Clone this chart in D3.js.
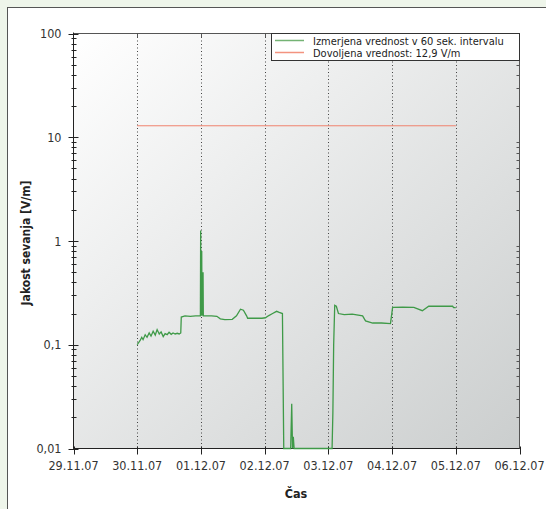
<!DOCTYPE html>
<html lang="en">
<head>
    <meta charset="utf-8">
    <title>Jakost sevanja</title>
    <script type="text/javascript" src="https://d3js.org/d3.v7.min.js"></script>
    <style>
        body { margin: 0; background: #eef5ea; }
        text { font-family: "DejaVu Sans Condensed", "DejaVu Sans", sans-serif; }
    </style>
</head>
<body>
<script type="text/javascript">

    // Tick labels for the day axis (29.11.07 .. 06.12.07)
    var dayLabels = ["29.11.07", "30.11.07", "01.12.07", "02.12.07", "03.12.07", "04.12.07", "05.12.07", "06.12.07"];
    var yTickValues = [0.01, 0.1, 1, 10, 100];
    var yTickLabels = ["0,01", "0,1", "1", "10", "100"];

    // Measured series: hours since 30.11.07 00:00 and value in V/m
    var measuredHours = [0, 1.1, 1.7, 2.2, 3.0, 3.7, 4.5, 5.2, 6.0, 6.8, 7.5, 8.3, 9.0, 9.8, 10.5, 11.3, 12.0, 12.8, 13.5, 14.3,
        15.1, 15.8, 16.4, 16.6, 18, 20, 22, 23.8, 23.9, 24.0, 24.3, 24.4, 24.8, 24.9, 26, 28, 30, 31.3, 33, 35.8,
        37.4, 38.9, 40, 41.2, 41.6, 44, 47, 48.3, 49.4, 51, 52.5, 53.5, 54.7, 55.2, 57.8, 58.2, 58.5, 58.8, 59.1, 73.4,
        73.7, 74.0, 74.4, 75.0, 75.8, 78, 81, 84.9, 86, 88.7, 92, 95.4, 96.2, 100, 104.2, 107.4, 109.8, 114, 118.8, 119.2, 120];
    var measuredValues = [0.1, 0.11, 0.118, 0.112, 0.125, 0.118, 0.13, 0.121, 0.135, 0.124, 0.14, 0.127, 0.133, 0.12, 0.128, 0.125, 0.132, 0.126, 0.13, 0.127,
        0.129, 0.127, 0.13, 0.185, 0.19, 0.188, 0.19, 0.19, 1.26, 0.19, 0.8, 0.19, 0.5, 0.19, 0.19, 0.19, 0.188, 0.178, 0.175, 0.176,
        0.19, 0.22, 0.215, 0.19, 0.18, 0.18, 0.18, 0.182, 0.19, 0.2, 0.21, 0.205, 0.2, 0.01, 0.01, 0.027, 0.01, 0.013, 0.01, 0.01,
        0.022, 0.1, 0.24, 0.235, 0.2, 0.195, 0.197, 0.19, 0.17, 0.162, 0.162, 0.16, 0.229, 0.23, 0.229, 0.213, 0.235, 0.235, 0.235, 0.228, 0.228];

    // Allowed limit
    var limitValue = 12.9;
    var limitHours = [0, 120];

    var legendLabels = ["Izmerjena vrednost v 60 sek. intervalu", "Dovoljena vrednost: 12,9 V/m"];
    var seriesColors = ["#3f9a48", "#f0826e"];
    var legendColors = ["#74b374", "#f3937f"];

    var width = 546, height = 509;
    var plotLeft = 73.5, plotRight = 519.5, plotTop = 33.5, plotBottom = 448.5;

    var svg = d3.select("body").append("svg")
        .attr("width", width)
        .attr("height", height);

    svg.append("rect").attr("width", width).attr("height", height).attr("fill", "#eef5ea");
    svg.append("rect")
        .attr("x", 7.5).attr("y", 7.5)
        .attr("width", 560).attr("height", 540)
        .attr("fill", "#ffffff").attr("stroke", "#555").attr("stroke-width", 1);

    // Plot background gradient
    var grad = svg.append("defs").append("linearGradient")
        .attr("id", "bg").attr("x1", 0).attr("y1", 0).attr("x2", 1).attr("y2", 1);
    grad.append("stop").attr("offset", "0%").attr("stop-color", "#ffffff");
    grad.append("stop").attr("offset", "100%").attr("stop-color", "#cbcece");

    var x = d3.scaleLinear().domain([0, 7]).range([plotLeft, plotRight]);
    var y = d3.scaleLog().domain([0.01, 100]).range([plotBottom, plotTop]);

    svg.append("rect")
        .attr("x", plotLeft).attr("y", plotTop)
        .attr("width", plotRight - plotLeft).attr("height", plotBottom - plotTop)
        .attr("fill", "url(#bg)")
        .attr("stroke", "#555").attr("stroke-width", 1);

    // Vertical dotted grid lines
    svg.append("g").selectAll("line")
        .data(d3.range(1, 7))
        .enter().append("line")
        .attr("x1", function(d) { return Math.round(x(d)) + 0.5; })
        .attr("x2", function(d) { return Math.round(x(d)) + 0.5; })
        .attr("y1", plotTop).attr("y2", plotBottom)
        .attr("stroke", "#444").attr("stroke-width", 1)
        .attr("stroke-dasharray", "1,2.5");

    // Minor ticks on log axis
    var minorTicks = [];
    [0.01, 0.1, 1, 10].forEach(function(base) {
        for (var k = 2; k <= 9; k++) minorTicks.push(base * k);
    });

    var axisG = svg.append("g").attr("stroke", "#222").attr("stroke-width", 1);
    axisG.selectAll(".minorL").data(minorTicks).enter().append("line")
        .attr("x1", plotLeft - 2).attr("x2", plotLeft + 3)
        .attr("y1", function(d) { return Math.round(y(d)) + 0.5; })
        .attr("y2", function(d) { return Math.round(y(d)) + 0.5; });
    axisG.selectAll(".majorL").data(yTickValues).enter().append("line")
        .attr("x1", plotLeft - 5).attr("x2", plotLeft + 5)
        .attr("y1", function(d) { return Math.round(y(d)) + 0.5; })
        .attr("y2", function(d) { return Math.round(y(d)) + 0.5; });
    axisG.selectAll(".minorR").data(minorTicks).enter().append("line")
        .attr("x1", plotRight - 3).attr("x2", plotRight)
        .attr("y1", function(d) { return Math.round(y(d)) + 0.5; })
        .attr("y2", function(d) { return Math.round(y(d)) + 0.5; })
        .attr("stroke", "#555");
    axisG.selectAll(".majorB").data(d3.range(0, 8)).enter().append("line")
        .attr("x1", function(d) { return Math.round(x(d)) + 0.5; })
        .attr("x2", function(d) { return Math.round(x(d)) + 0.5; })
        .attr("y1", plotBottom - 2).attr("y2", plotBottom + 6);
    axisG.selectAll(".majorT").data(d3.range(1, 7)).enter().append("line")
        .attr("x1", function(d) { return Math.round(x(d)) + 0.5; })
        .attr("x2", function(d) { return Math.round(x(d)) + 0.5; })
        .attr("y1", plotTop).attr("y2", plotTop + 4)
        .attr("stroke", "#555");
    axisG.append("line").attr("x1", plotLeft).attr("x2", plotLeft).attr("y1", plotTop - 1).attr("y2", plotBottom);
    axisG.append("line").attr("x1", plotLeft).attr("x2", plotRight).attr("y1", plotBottom).attr("y2", plotBottom);

    // Tick labels
    svg.append("g").selectAll("text").data(yTickValues).enter().append("text")
        .attr("x", plotLeft - 12)
        .attr("y", function(d) { return y(d) + 4.5; })
        .attr("text-anchor", "end")
        .attr("font-size", 12.5).attr("fill", "#333")
        .text(function(d, i) { return yTickLabels[i]; });
    svg.append("g").selectAll("text").data(dayLabels).enter().append("text")
        .attr("x", function(d, i) { return x(i); })
        .attr("y", plotBottom + 21.5)
        .attr("text-anchor", "middle")
        .attr("font-size", 12.5).attr("fill", "#333")
        .text(function(d) { return d; });

    // Axis titles
    svg.append("text")
        .attr("transform", "translate(29.5," + ((plotTop + plotBottom) / 2 + 2) + ") rotate(-90)")
        .attr("text-anchor", "middle")
        .attr("font-size", 12).attr("font-weight", "bold").attr("fill", "#222")
        .text("Jakost sevanja [V/m]");
    svg.append("text")
        .attr("x", 296).attr("y", plotBottom + 49)
        .attr("text-anchor", "middle")
        .attr("font-size", 12.5).attr("font-weight", "bold").attr("fill", "#222")
        .text("Čas");

    // Lines
    var line = d3.line()
        .x(function(d) { return x(1 + d[0] / 24); })
        .y(function(d) { return y(d[1]); });

    var measured = measuredHours.map(function(h, i) { return [h, measuredValues[i]]; });
    var limit = limitHours.map(function(h) { return [h, limitValue]; });

    svg.append("path").datum(limit)
        .attr("d", line).attr("fill", "none")
        .attr("stroke", seriesColors[1]).attr("stroke-width", 1);
    svg.append("path").datum(measured)
        .attr("d", line).attr("fill", "none")
        .attr("stroke", seriesColors[0]).attr("stroke-width", 1.3);

    // Legend
    var legend = svg.append("g");
    legend.append("rect")
        .attr("x", 271.5).attr("y", plotTop)
        .attr("width", plotRight - 271.5).attr("height", 27)
        .attr("fill", "#ffffff").attr("stroke", "#333").attr("stroke-width", 1);
    legendLabels.forEach(function(label, i) {
        legend.append("line")
            .attr("x1", 275).attr("x2", 304)
            .attr("y1", 40.5 + i * 12).attr("y2", 40.5 + i * 12)
            .attr("stroke", legendColors[i]).attr("stroke-width", 1.5);
        legend.append("text")
            .attr("x", 313).attr("y", 44.5 + i * 12)
            .attr("font-size", 11).attr("fill", "#222")
            .text(label);
    });

</script>
</body>
</html>
